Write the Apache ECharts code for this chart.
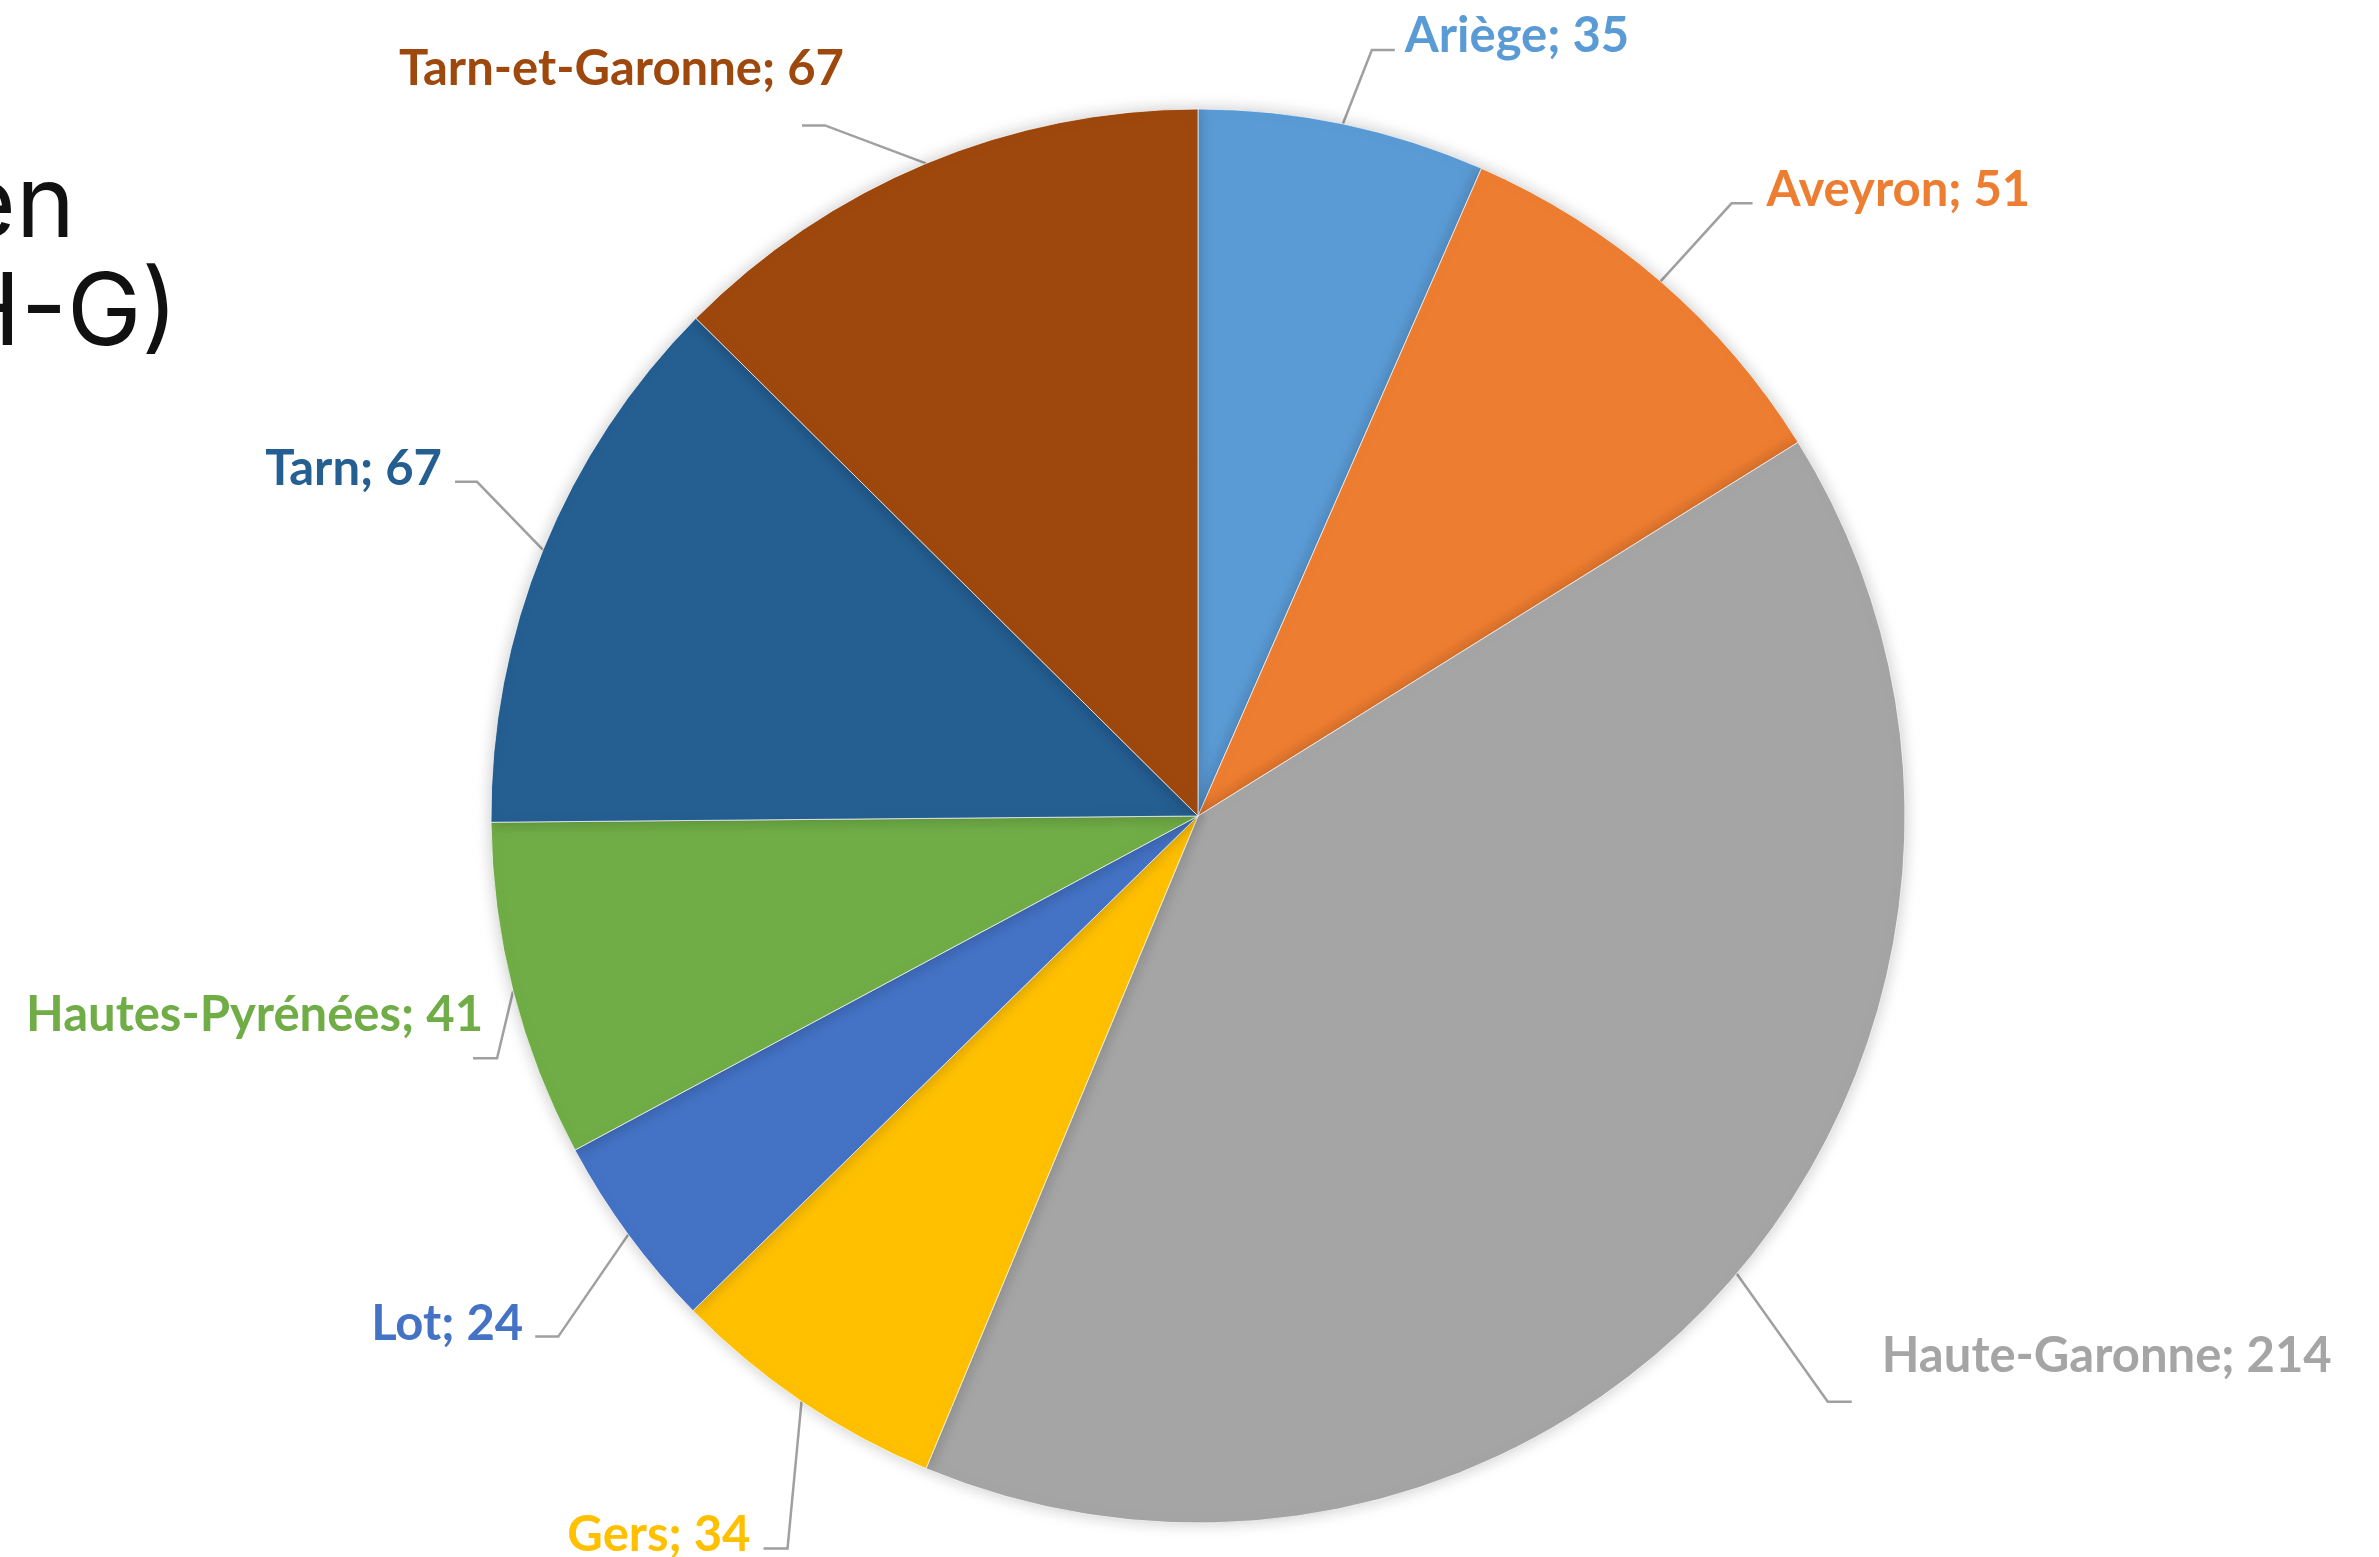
<!DOCTYPE html>
<html>
<head>
<meta charset="utf-8">
<style>
  html, body { margin: 0; padding: 0; background: #fff; }
  #chart { width: 2379px; height: 1557px; }
</style>
<script src="https://cdn.jsdelivr.net/npm/echarts@6/dist/echarts.min.js"></script>
</head>
<body>
<div id="chart"></div>
<script>
// données
const departements = ["Ariège", "Aveyron", "Haute-Garonne", "Gers", "Lot", "Hautes-Pyrénées", "Tarn", "Tarn-et-Garonne"];
const effectifs = [35, 51, 214, 34, 24, 41, 67, 67];
const couleurs = ["#5B9BD5", "#ED7D31", "#A5A5A5", "#FFC000", "#4472C4", "#70AD47", "#255E91", "#9E480E"];
const titreLignes = ["en", "H-G)"];

// placement des étiquettes, relatif au point d'attache sur le disque (px)
const placement = [
  { coude: [29, -74], queue: 23, texte: [10, -14], align: "left" },
  { coude: [71, -78], queue: 21, texte: [14, -13], align: "left" },
  { coude: [91, 128], queue: 24, texte: [30, -46], align: "left" },
  { coude: [-14, 147], queue: -24, texte: [-13, -13], align: "right" },
  { coude: [-70, 102], queue: -23, texte: [-12, -12], align: "right" },
  { coude: [-16, 67], queue: -24, texte: [10, -43], align: "right" },
  { coude: [-66, -68], queue: -22, texte: [-13, -13], align: "right" },
  { coude: [-101, -38], queue: -23, texte: [42, -56], align: "right" },
];

const chart = echarts.init(document.getElementById("chart"));

chart.setOption({
  animation: false,
  backgroundColor: "#fff",
  graphic: [
    {
      type: "text",
      x: 75,
      y: 207,
      style: { text: titreLignes[0], font: "100px Inter", fill: "#111", align: "right", verticalAlign: "middle" },
    },
    {
      type: "text",
      x: 178,
      y: 315,
      style: { text: titreLignes[1], font: "100px Inter", fill: "#111", align: "right", verticalAlign: "middle" },
    },
  ],
  series: [
    {
      type: "pie",
      center: [1198, 816],
      radius: [0, 707],
      startAngle: 90,
      clockwise: true,
      avoidLabelOverlap: false,
      data: departements.map((nom, i) => ({
        name: nom,
        value: effectifs[i],
        itemStyle: { color: couleurs[i] },
        label: { color: couleurs[i] },
      })),
      itemStyle: {
        borderColor: "rgba(255,255,255,0.7)",
        borderWidth: 1,
        shadowBlur: 16,
        shadowColor: "rgba(0,0,0,0.22)",
      },
      label: {
        show: true,
        position: "outside",
        formatter: "{b}; {c}",
        fontFamily: "Lato",
        fontWeight: "bold",
        fontSize: 49,
      },
      labelLine: {
        show: true,
        length: 40,
        length2: 20,
        lineStyle: { color: "#A0A0A0", width: 2.5 },
      },
      labelLayout: function (params) {
        const p = placement[params.dataIndex];
        const pts = params.labelLinePoints;
        if (!p || !pts) return {};
        const a = pts[0];
        const coude = [a[0] + p.coude[0], a[1] + p.coude[1]];
        const bout = [coude[0] + p.queue, coude[1]];
        return {
          x: bout[0] + p.texte[0],
          y: bout[1] + p.texte[1],
          align: p.align,
          verticalAlign: "middle",
          labelLinePoints: [a, coude, bout],
        };
      },
      emphasis: { disabled: true },
    },
  ],
});
</script>
</body>
</html>
